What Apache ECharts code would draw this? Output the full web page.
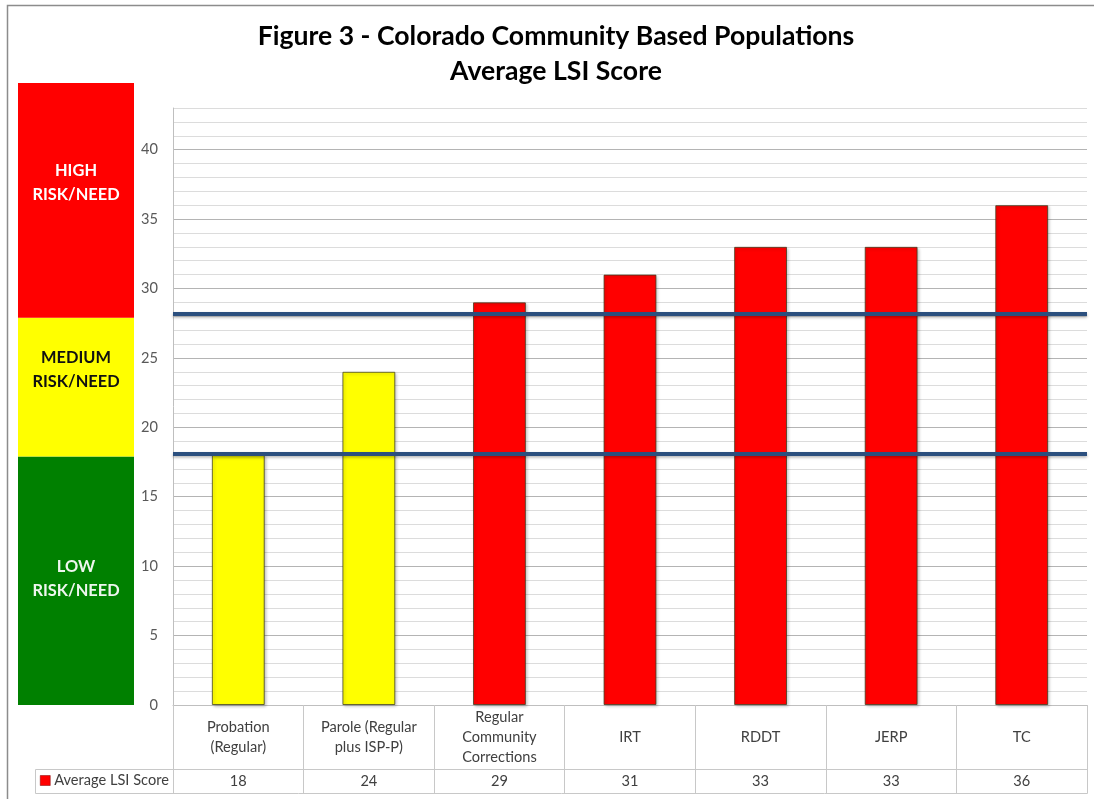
<!DOCTYPE html>
<html>
<head>
<meta charset="utf-8">
<script src="https://cdn.jsdelivr.net/npm/echarts@6/dist/echarts.min.js"></script>
<style>
  html, body { margin: 0; padding: 0; background: #ffffff; }
  #chart { width: 1094px; height: 799px; }
</style>
</head>
<body>
<div id="chart"></div>
<script>
// Average LSI score by supervision population
const categories = ['Probation\n(Regular)', 'Parole (Regular\nplus ISP-P)', 'Regular\nCommunity\nCorrections', 'IRT', 'RDDT', 'JERP', 'TC'];
const scores = [18, 24, 29, 31, 33, 33, 36];
const seriesName = 'Average LSI Score';

// Risk/need cut-off lines and the coloured scale on the left
const riskLines = [18.1, 28.2];
const bandNames = ['LOW\nRISK/NEED', 'MEDIUM\nRISK/NEED', 'HIGH\nRISK/NEED'];
const bandEdges = [0, 17.9, 27.9, 44.8];

// Value axis
const yMax = 43;
const yLabelStep = 5;

const FONT = 'Lato';
const TXT = 14.6;
const bandColors = ['#008000', '#ffff00', '#ff0000'];
const bandTextColors = ['#eef6ee', '#111111', '#ffffff'];
const bandLabelPos = [122, 52, 100];

// plot layout
const plotLeft = 173, plotRight = 1087, plotTop = 108, plotBottom = 705;
const pxPerUnit = (plotBottom - plotTop) / yMax;
const bandTop = plotBottom - bandEdges[bandEdges.length - 1] * pxPerUnit;

function colorFor(v) {
  if (v >= bandEdges[2]) return bandColors[2];
  if (v >= bandEdges[1]) return bandColors[1];
  return bandColors[0];
}

const bandSeries = bandNames.map((name, i) => ({
  type: 'bar',
  name: 'band' + i,
  xAxisIndex: 2,
  yAxisIndex: 1,
  stack: 'bands',
  barWidth: '100%',
  silent: true,
  data: [bandEdges[i + 1] - bandEdges[i]],
  itemStyle: { color: bandColors[i] },
  label: {
    show: true,
    position: ['50%', bandLabelPos[i]],
    align: 'center',
    verticalAlign: 'middle',
    formatter: name,
    fontFamily: FONT,
    fontWeight: 'bold',
    fontSize: 16.4,
    lineHeight: 24,
    color: bandTextColors[i]
  }
}));

const chart = echarts.init(document.getElementById('chart'), null, { renderer: 'canvas' });

chart.setOption({
  backgroundColor: '#ffffff',
  animation: false,
  textStyle: { fontFamily: FONT },
  title: {
    text: 'Figure 3 - Colorado Community Based Populations\nAverage LSI Score',
    left: 551,
    top: 14,
    textAlign: 'center',
    textStyle: { fontFamily: FONT, fontSize: 26.6, fontWeight: 'bold', color: '#000000', lineHeight: 35 }
  },
  legend: {
    data: [{ name: seriesName, itemStyle: { color: '#ff0000', borderColor: '#7f0000', borderWidth: 0.5 } }],
    left: 40,
    top: 773,
    padding: 0,
    icon: 'rect',
    itemWidth: 10,
    itemHeight: 10,
    itemGap: 4,
    selectedMode: false,
    textStyle: { fontFamily: FONT, fontSize: TXT, color: '#404040', padding: [0, 0, 0, -1] }
  },
  grid: [
    { left: plotLeft, width: plotRight - plotLeft, top: plotTop, height: plotBottom - plotTop },
    { left: 18, width: 116, top: bandTop, height: plotBottom - bandTop }
  ],
  xAxis: [
    {
      type: 'category',
      gridIndex: 0,
      data: categories,
      axisLine: { show: true, lineStyle: { color: '#bfbfbf', width: 1 } },
      axisTick: { show: true, interval: 0, length: 88, lineStyle: { color: '#c8c8c8', width: 1 } },
      axisLabel: {
        interval: 0,
        margin: 32,
        verticalAlign: 'middle',
        fontFamily: FONT,
        fontSize: TXT,
        lineHeight: 20,
        color: '#404040'
      },
      splitLine: { show: false }
    },
    {
      type: 'category',
      gridIndex: 0,
      position: 'bottom',
      offset: 64,
      data: scores.map(String),
      axisLine: { show: true, lineStyle: { color: '#c8c8c8', width: 1 } },
      axisTick: { show: false },
      axisLabel: {
        interval: 0,
        margin: 12,
        verticalAlign: 'middle',
        fontFamily: FONT,
        fontSize: TXT,
        color: '#404040'
      }
    },
    {
      type: 'category',
      gridIndex: 1,
      data: ['scale'],
      show: false
    }
  ],
  yAxis: [
    {
      type: 'value',
      gridIndex: 0,
      min: 0,
      max: yMax,
      interval: 1,
      axisLine: { show: true, lineStyle: { color: '#bfbfbf', width: 1 } },
      axisTick: { show: false },
      axisLabel: {
        formatter: v => (v % yLabelStep === 0 ? String(v) : ''),
        fontFamily: FONT,
        fontSize: TXT,
        color: '#595959',
        margin: 15
      },
      splitLine: {
        show: true,
        lineStyle: { color: ['#b4b4b4', '#dcdcdc', '#dcdcdc', '#dcdcdc', '#dcdcdc'], width: 1 }
      }
    },
    {
      type: 'value',
      gridIndex: 1,
      min: 0,
      max: bandEdges[bandEdges.length - 1],
      show: false,
      splitLine: { show: false }
    }
  ],
  series: [
    {
      type: 'bar',
      name: seriesName,
      xAxisIndex: 0,
      yAxisIndex: 0,
      barWidth: '40.5%',
      data: scores,
      itemStyle: {
        color: p => colorFor(scores[p.dataIndex]),
        borderColor: 'rgba(60,60,30,0.75)',
        borderWidth: 1,
        shadowColor: 'rgba(0,0,0,0.25)',
        shadowBlur: 3,
        shadowOffsetX: 1.5,
        shadowOffsetY: 1.5
      },
      markLine: {
        silent: true,
        symbol: ['none', 'none'],
        label: { show: false },
        lineStyle: {
          color: '#2b4f7e',
          width: 4,
          type: 'solid',
          shadowColor: 'rgba(0,0,0,0.3)',
          shadowBlur: 3,
          shadowOffsetY: 1.5
        },
        data: riskLines.map(v => ({ yAxis: v }))
      }
    },
    ...bandSeries
  ],
  graphic: [
    {
      type: 'rect',
      silent: true,
      shape: { x: 7.5, y: 5.5, width: 1100, height: 800 },
      style: { fill: 'none', stroke: '#8c8c8c', lineWidth: 1.5 }
    },
    {
      type: 'polyline',
      silent: true,
      shape: { points: [[35.5, 769.5], [plotLeft, 769.5]] },
      style: { stroke: '#c8c8c8', lineWidth: 1 }
    },
    {
      type: 'polyline',
      silent: true,
      shape: { points: [[35.5, 769.5], [35.5, 793.5], [plotRight + 0.5, 793.5], [plotRight + 0.5, 769.5]] },
      style: { stroke: '#c8c8c8', fill: 'none', lineWidth: 1 }
    }
  ]
});
</script>
</body>
</html>
